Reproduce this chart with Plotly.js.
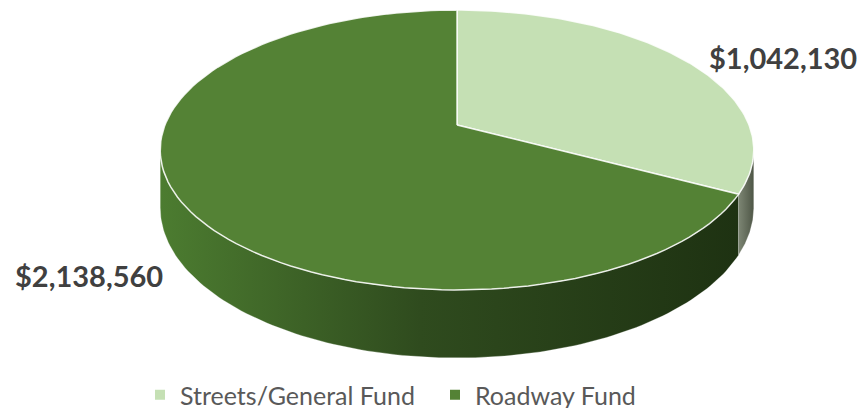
<!DOCTYPE html>
<html>
<head>
<meta charset="utf-8">
<script src="https://cdn.plot.ly/plotly-3.0.1.min.js"></script>
<style>html,body{margin:0;padding:0;background:#fff;}#chart{width:867px;height:408px;}</style>
</head>
<body>
<div id="chart"></div>
<script>
// ---- data ----
const categories = ['Streets/General Fund', 'Roadway Fund'];
const values = [1042130, 2138560];
const labelTexts = values.map(v => '$' + v.toLocaleString('en-US'));

// ---- styling / geometry (pixel space) ----
const topColors = ['#c5e0b4', '#548235'];
const legendColors = ['#c5e0b4', '#548235'];
const wallScales = [
  [[0, '#7d8674'], [1, '#4e5646']],
  [[0, '#4c7c30'], [0.45, '#2f4b1e'], [1, '#1e3212']]
];
const cx = 457, A = 113.2, B = 125, p = -0.1786, a0 = 292, d0 = 55.8;

function proj(theta, h) {
  const v = -Math.cos(theta);
  const s = 1 + p * v;
  return [cx + a0 * Math.sin(theta) / s, (A * v + B) / s + h * d0 / s];
}

const total = values.reduce((a, b) => a + b, 0);
const bounds = [];
let acc = 0;
values.forEach(v => { const s = acc; acc += v; bounds.push([s / total * 2 * Math.PI, acc / total * 2 * Math.PI]); });

// visible wall range: between rightmost and leftmost silhouette points
const tRight = Math.acos(p);
const tLeft = 2 * Math.PI - tRight;

const traces = [];
const N = 120;
// walls
bounds.forEach((b, i) => {
  const t0 = Math.max(b[0], tRight), t1 = Math.min(b[1], tLeft);
  if (t1 <= t0) return;
  const xs = [], ys = [];
  for (let k = 0; k <= N; k++) { const t = t0 + (t1 - t0) * k / N; const q = proj(t, 0); xs.push(q[0]); ys.push(q[1]); }
  for (let k = N; k >= 0; k--) { const t = t0 + (t1 - t0) * k / N; const q = proj(t, 1); xs.push(q[0]); ys.push(q[1]); }
  xs.push(xs[0]); ys.push(ys[0]);
  traces.push({
    type: 'scatter', mode: 'lines', x: xs, y: ys, fill: 'toself',
    fillgradient: { type: 'horizontal', colorscale: wallScales[i] },
    line: { width: 0.8, color: 'rgba(255,255,255,0.35)' },
    hoverinfo: 'skip', showlegend: false
  });
});
// top faces
bounds.forEach((b, i) => {
  const xs = [cx], ys = [B];
  for (let k = 0; k <= N; k++) { const t = b[0] + (b[1] - b[0]) * k / N; const q = proj(t, 0); xs.push(q[0]); ys.push(q[1]); }
  xs.push(cx); ys.push(B);
  traces.push({
    type: 'scatter', mode: 'lines', x: xs, y: ys, fill: 'toself', fillcolor: topColors[i],
    line: { width: 1.5, color: 'rgba(255,255,255,0.85)' },
    hoverinfo: 'skip', showlegend: false
  });
});
// legend entries
categories.forEach((c, i) => {
  traces.push({
    type: 'scatter', mode: 'markers', x: [null], y: [null], name: c,
    marker: { symbol: 'square', size: 10, color: legendColors[i] }, showlegend: true
  });
});

const labelPos = [[783, 57], [89, 275]];
const annotations = labelTexts.map((t, i) => ({
  x: labelPos[i][0], y: labelPos[i][1], xref: 'x', yref: 'y', text: t, showarrow: false,
  font: { family: 'Lato, sans-serif', size: 29, color: '#404040', weight: 'bold' },
  xanchor: 'center', yanchor: 'middle'
}));

const layout = {
  width: 867, height: 408,
  margin: { l: 0, r: 0, t: 0, b: 0, autoexpand: false },
  paper_bgcolor: '#ffffff', plot_bgcolor: '#ffffff',
  xaxis: { range: [0, 867], visible: false, fixedrange: true },
  yaxis: { range: [408, 0], visible: false, fixedrange: true },
  showlegend: true,
  legend: {
    orientation: 'h', x: 140 / 867, xanchor: 'left', y: 13 / 408, yanchor: 'middle',
    font: { family: 'Lato, sans-serif', size: 25, color: '#595959' },
    entrywidth: 250, entrywidthmode: 'pixels', bgcolor: 'rgba(0,0,0,0)'
  },
  annotations: annotations
};

Plotly.newPlot('chart', traces, layout, { staticPlot: true, displayModeBar: false });
</script>
</body>
</html>
